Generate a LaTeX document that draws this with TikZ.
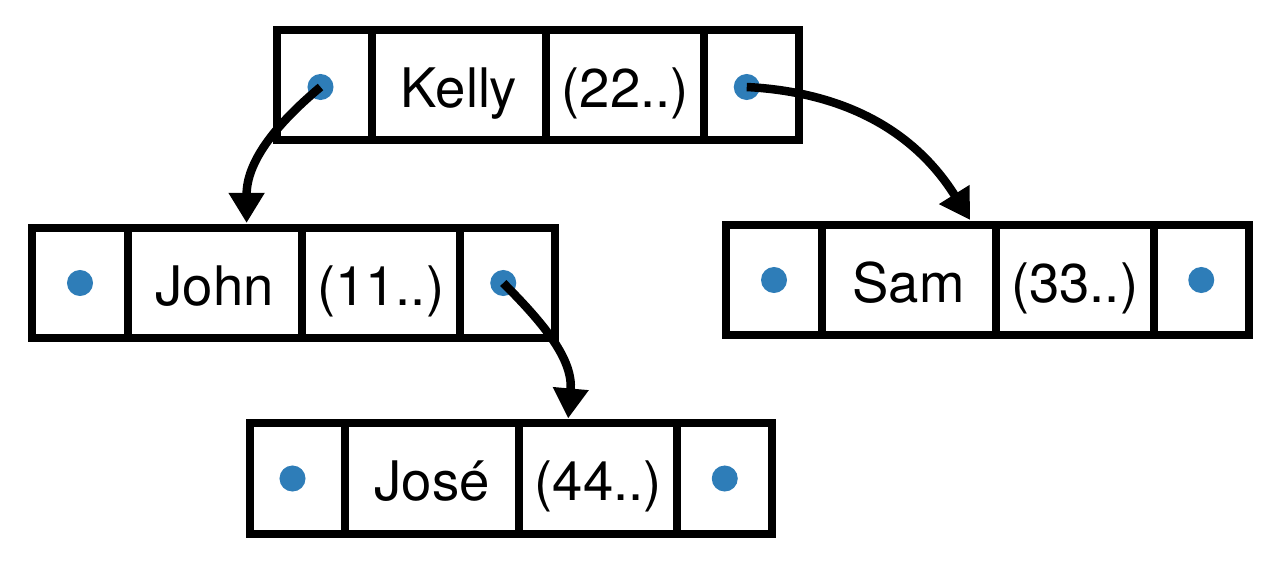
\documentclass[tikz,border=0pt]{standalone}
\usepackage{fontspec}
\setmainfont{TeX Gyre Heros}
\usepackage{xcolor}
\usetikzlibrary{positioning,arrows.meta}
\definecolor{ptrblue}{RGB}{46,125,184}
\tikzset{
	cell/.style={draw,line width=0.08cm,rectangle,inner sep=0pt,outer sep=0pt,
		minimum height=1.1cm,text height=0.44cm,text depth=0cm,
		font=\fontsize{15.5}{18}\selectfont},
	ptrcell/.style={cell,minimum width=0.95cm},
	namecell/.style={cell,minimum width=1.74cm},
	valcell/.style={cell,minimum width=1.58cm},
	dot/.style={circle,fill=ptrblue,inner sep=0pt,minimum size=0.26cm},
	link/.style={line width=0.085cm,-{Triangle[length=0.3cm,width=0.34cm]}}
}

\begin{document}
\begin{tikzpicture}[x=0.01cm,y=-0.01cm]
	\useasboundingbox (0,0) rectangle (1288,582);
	% Kelly
	\node[ptrcell] (kl) at (324.5,85) {};
	\node[namecell,right=0pt of kl] (kname) {Kelly};
	\node[valcell,right=0pt of kname] (kval) {(22..)};
	\node[ptrcell,right=0pt of kval] (kr) {};
	\node[dot] (kdl) at ([xshift=-0.04cm,yshift=-0.02cm]kl.center) {};
	\node[dot] (kdr) at ([xshift=-0.05cm,yshift=-0.02cm]kr.center) {};
	% John
	\node[ptrcell] (jl) at (80,283) {};
	\node[namecell,right=0pt of jl] (jname) {John};
	\node[valcell,right=0pt of jname] (jval) {(11..)};
	\node[ptrcell,right=0pt of jval] (jr) {};
	\node[dot] (jdl) at (jl) {};
	\node[dot] (jdr) at ([xshift=-0.04cm]jr.center) {};
	% Sam
	\node[ptrcell] (sl) at (774,280) {};
	\node[namecell,right=0pt of sl] (sname) {Sam};
	\node[valcell,right=0pt of sname] (sval) {(33..)};
	\node[ptrcell,right=0pt of sval] (sr) {};
	\node[dot] (sdl) at (sl) {};
	\node[dot] (sdr) at (sr) {};
	% Jose
	\node[ptrcell] (zl) at (297.5,478.5) {};
	\node[namecell,right=0pt of zl] (zname) {José};
	\node[valcell,right=0pt of zname] (zval) {(44..)};
	\node[ptrcell,right=0pt of zval] (zr) {};
	\node[dot] (zdl) at ([xshift=-0.05cm]zl.center) {};
	\node[dot] (zdr) at (zr) {};
	% links
	\draw[link] (kdl.center) to[out=-140,in=90] ([xshift=0.32cm,yshift=0.05cm]jname.north);
	\draw[link] (kdr.center) to[out=-3,in=122] ([xshift=0.615cm,yshift=0.05cm]sname.north);
	\draw[link] (jdr.center) to[out=-45,in=85] ([xshift=-0.30cm,yshift=0.05cm]zval.north);
\end{tikzpicture}
\end{document}
